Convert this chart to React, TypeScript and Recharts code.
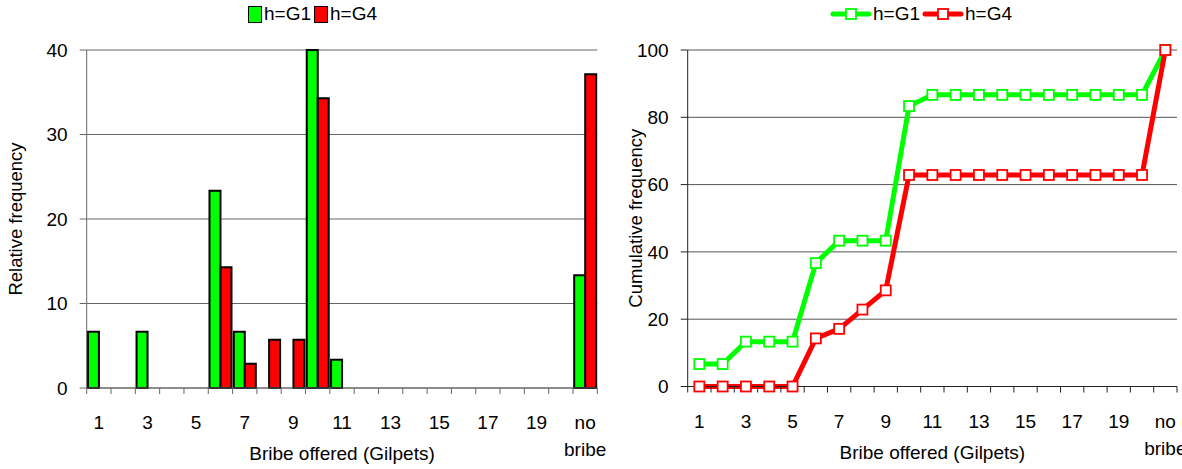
import React from "react";
import {
  BarChart,
  Bar,
  LineChart,
  Line,
  XAxis,
  YAxis,
  CartesianGrid,
  Label,
} from "recharts";

const categories = [
  "1", "2", "3", "4", "5", "6", "7", "8", "9", "10",
  "11", "12", "13", "14", "15", "16", "17", "18", "19", "20", "no bribe",
];
const tickLabels = ["1", "3", "5", "7", "9", "11", "13", "15", "17", "19", "no bribe"];

const relG1 = [6.67, 0, 6.67, 0, 0, 23.33, 6.67, 0, 0, 40, 3.33, 0, 0, 0, 0, 0, 0, 0, 0, 0, 13.33];
const relG4 = [0, 0, 0, 0, 0, 14.29, 2.86, 5.71, 5.71, 34.29, 0, 0, 0, 0, 0, 0, 0, 0, 0, 0, 37.14];

const cumG1 = [6.67, 6.67, 13.33, 13.33, 13.33, 36.67, 43.33, 43.33, 43.33, 83.33,
  86.67, 86.67, 86.67, 86.67, 86.67, 86.67, 86.67, 86.67, 86.67, 86.67, 100];
const cumG4 = [0, 0, 0, 0, 0, 14.29, 17.14, 22.86, 28.57, 62.86,
  62.86, 62.86, 62.86, 62.86, 62.86, 62.86, 62.86, 62.86, 62.86, 62.86, 100];

const relTicks = [0, 10, 20, 30, 40];
const cumTicks = [0, 20, 40, 60, 80, 100];

const seriesNames = ["h=G1", "h=G4"];
const GREEN = "#00ff00";
const RED = "#ff0000";
const FONT = "'Liberation Sans', Arial, sans-serif";
const FS = 19;

const relData = categories.map((c, i) => ({ cat: c, g1: relG1[i], g4: relG4[i] }));
const cumData = categories.map((c, i) => ({ cat: c, g1: cumG1[i], g4: cumG4[i] }));

function makeXTick(band: number, color: string) {
  return (props: any) => {
    const { x, y, payload, index } = props;
    const label = String(payload.value);
    const show = tickLabels.includes(label);
    const lines = label.split(" ");
    return (
      <g>
        <line x1={x - band / 2} x2={x - band / 2} y1={y} y2={y + 6} stroke={color} strokeWidth={1} />
        {index === categories.length - 1 && (
          <line x1={x + band / 2} x2={x + band / 2} y1={y} y2={y + 6} stroke={color} strokeWidth={1} />
        )}
        {show && (
          <text x={x} y={y + 34} textAnchor="middle" fontSize={FS} fill="#000" fontFamily={FONT} dominantBaseline="central">
            {lines.map((l, i) => (
              <tspan key={i} x={x} dy={i === 0 ? 0 : 27}>
                {l}
              </tspan>
            ))}
          </text>
        )}
      </g>
    );
  };
}

function yTitle(text: string, dx: number) {
  return (p: any) => {
    const vb = p.viewBox;
    const cx = vb.x + dx;
    const cy = vb.y + vb.height / 2;
    return (
      <text
        transform={`translate(${cx}, ${cy}) rotate(-90)`}
        textAnchor="middle"
        dominantBaseline="central"
        fontSize={18.5}
        fontFamily={FONT}
        fill="#000"
      >
        {text}
      </text>
    );
  };
}

const SquareDot = (color: string) => (props: any) => {
  const { cx, cy, index } = props;
  if (cx == null || cy == null) return <g key={index} />;
  return (
    <rect key={index} x={cx - 5} y={cy - 5} width={10} height={10} fill="#fff" stroke={color} strokeWidth={1.8} />
  );
};

const LEFT_W = 610;
const RIGHT_W = 572;
const H = 469;
const leftBand = (597.3 - 86.7) / 21;
const rightBand = (1177 - 687.7) / 21;

export default function App() {
  return (
    <div style={{ position: "absolute", left: 0, top: 0, width: 1182, height: H, background: "#fff", fontFamily: FONT, overflow: "hidden" }}>
      {/* Left legend */}
      <div style={{ position: "absolute", left: 248, top: 3, display: "flex", alignItems: "center", fontSize: FS, color: "#000" }}>
        <span style={{ display: "inline-block", width: 12, height: 15, background: GREEN, border: "1.5px solid #000", marginRight: 2 }} />
        <span style={{ marginRight: 3 }}>{seriesNames[0]}</span>
        <span style={{ display: "inline-block", width: 12, height: 15, background: RED, border: "1.5px solid #000", marginRight: 2 }} />
        <span>{seriesNames[1]}</span>
      </div>
      {/* Right legend */}
      <div style={{ position: "absolute", left: 830, top: 3, display: "flex", alignItems: "center", fontSize: FS, color: "#000" }}>
        <svg width={42} height={14} style={{ marginRight: 1 }}>
          <line x1={3} x2={39} y1={7} y2={7} stroke={GREEN} strokeWidth={5} strokeLinecap="round" />
          <rect x={16} y={2} width={10} height={10} fill="#fff" stroke={GREEN} strokeWidth={1.8} />
        </svg>
        <span style={{ marginRight: 2 }}>{seriesNames[0]}</span>
        <svg width={42} height={14} style={{ marginRight: 1 }}>
          <line x1={3} x2={39} y1={7} y2={7} stroke={RED} strokeWidth={5} strokeLinecap="round" />
          <rect x={16} y={2} width={10} height={10} fill="#fff" stroke={RED} strokeWidth={1.8} />
        </svg>
        <span>{seriesNames[1]}</span>
      </div>

      <div style={{ position: "absolute", left: 0, top: 0 }}>
        <BarChart
          width={LEFT_W}
          height={H}
          data={relData}
          margin={{ top: 50, right: LEFT_W - 597.3, bottom: 21, left: 0 }}
          barCategoryGap="5%"
          barGap={0}
        >
          <CartesianGrid vertical={false} stroke="#666" strokeWidth={1} />
          <XAxis
            dataKey="cat"
            interval={0}
            height={60}
            tickLine={false}
            tickSize={0}
            tickMargin={0}
            axisLine={{ stroke: "#666", strokeWidth: 1 }}
            tick={makeXTick(leftBand, "#666")}
          >
            <Label value="Bribe offered (Gilpets)" position="bottom" offset={-1} fontSize={FS} fill="#000" fontFamily={FONT} />
          </XAxis>
          <YAxis
            width={86.7}
            domain={[0, 40]}
            ticks={relTicks}
            interval={0}
            tickSize={7}
            tickMargin={12}
            tickLine={{ stroke: "#666" }}
            axisLine={{ stroke: "#666", strokeWidth: 1 }}
            tick={{ fontSize: FS, fill: "#000", fontFamily: FONT }}
          >
            <Label content={yTitle("Relative frequency", 15)} />
          </YAxis>
          <Bar dataKey="g1" name={seriesNames[0]} fill={GREEN} stroke="#000" strokeWidth={2} isAnimationActive={false} />
          <Bar dataKey="g4" name={seriesNames[1]} fill={RED} stroke="#000" strokeWidth={2} isAnimationActive={false} />
        </BarChart>
      </div>

      <div style={{ position: "absolute", left: LEFT_W, top: 0 }}>
        <LineChart
          width={RIGHT_W}
          height={H}
          data={cumData}
          margin={{ top: 50, right: RIGHT_W - (1177 - LEFT_W), bottom: 22.5, left: 0 }}
        >
          <CartesianGrid vertical={false} stroke="#555" strokeWidth={1} />
          <XAxis
            dataKey="cat"
            interval={0}
            height={60}
            tickLine={false}
            tickSize={0}
            tickMargin={0}
            padding={{ left: rightBand / 2, right: rightBand / 2 }}
            axisLine={{ stroke: "#222", strokeWidth: 1 }}
            tick={makeXTick(rightBand, "#222")}
          >
            <Label value="Bribe offered (Gilpets)" position="bottom" offset={-1} fontSize={FS} fill="#000" fontFamily={FONT} />
          </XAxis>
          <YAxis
            width={687.7 - LEFT_W}
            domain={[0, 100]}
            ticks={cumTicks}
            interval={0}
            tickSize={7}
            tickMargin={12}
            tickLine={{ stroke: "#222" }}
            axisLine={{ stroke: "#222", strokeWidth: 1 }}
            tick={{ fontSize: FS, fill: "#000", fontFamily: FONT }}
          >
            <Label content={yTitle("Cumulative frequency", 25)} />
          </YAxis>
          <Line
            type="linear"
            dataKey="g1"
            name={seriesNames[0]}
            stroke={GREEN}
            strokeWidth={5}
            dot={SquareDot(GREEN)}
            activeDot={false}
            isAnimationActive={false}
          />
          <Line
            type="linear"
            dataKey="g4"
            name={seriesNames[1]}
            stroke={RED}
            strokeWidth={5}
            dot={SquareDot(RED)}
            activeDot={false}
            isAnimationActive={false}
          />
        </LineChart>
      </div>
    </div>
  );
}
